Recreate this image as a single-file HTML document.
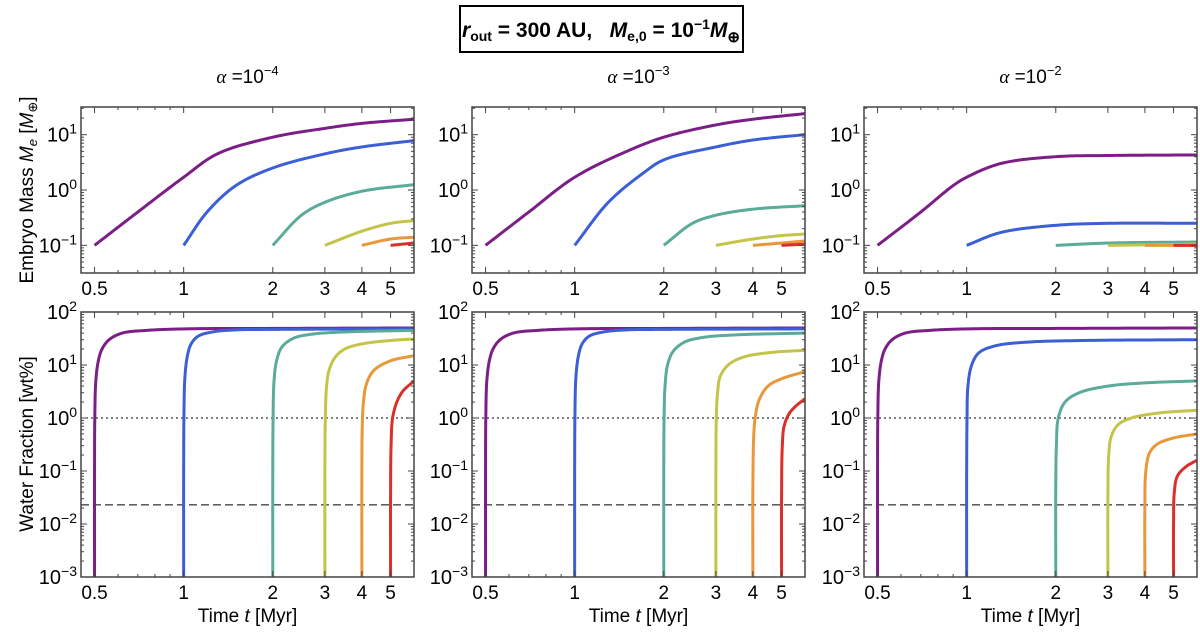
<!DOCTYPE html>
<html><head><meta charset="utf-8"><style>
body{margin:0;background:#fff;width:1200px;height:633px;overflow:hidden}
svg{font-family:"Liberation Sans",sans-serif}
</style></head><body>
<svg id="fig" width="1200" height="633" viewBox="0 0 1200 633">
<g>
<rect x="460" y="6" width="283" height="46" fill="#fff" stroke="#000" stroke-width="2"/>
<text x="601" y="37" text-anchor="middle" font-size="21" font-weight="bold"><tspan font-style="italic">r</tspan><tspan font-size="14" dy="4">out</tspan><tspan dy="-4" xml:space="preserve"> = 300 AU,   </tspan><tspan font-style="italic">M</tspan><tspan font-size="14" dy="4">e,0</tspan><tspan dy="-4"> = 10</tspan><tspan font-size="14" dy="-8">−1</tspan><tspan dy="8" font-style="italic">M</tspan><tspan font-size="15" dy="5">⊕</tspan></text>
</g>
<text transform="translate(33,190) rotate(-90)" text-anchor="middle" font-size="19">Embryo Mass <tspan font-style="italic">M</tspan><tspan font-size="13" font-style="italic" dy="4">e</tspan><tspan dy="-4"> [</tspan><tspan font-style="italic">M</tspan><tspan font-size="13" dy="4">⊕</tspan><tspan dy="-4">]</tspan></text>
<text transform="translate(33,444) rotate(-90)" text-anchor="middle" font-size="19">Water Fraction [wt%]</text>
</svg>
<script>
const NS="http://www.w3.org/2000/svg";
const svg=document.getElementById('fig');
const alphaExps=["−4","−3","−2"];
const colors=["#7b1f87","#3c5fd6","#5aab9a","#c4c44a","#e8973a","#d9302b"];
const xTicks=[0.5,1,2,3,4,5];
const xTickLabels=["0.5","1","2","3","4","5"];
const massTicks=[1,0,-1];
const waterTicks=[2,1,0,-1,-2,-3];
const dottedLevel=1;
const dashedLevel=0.023;
// mass series per panel: [t, M]
const massA4=[
[[0.5,0.1],[0.7,0.4],[1,1.7],[1.3,4.5],[2,9],[3,13],[4,16],[6,19]],
[[1,0.1],[1.2,0.4],[1.5,1.2],[2,2.5],[3,4.5],[4,6],[6,7.8]],
[[2,0.1],[2.5,0.35],[3,0.6],[4,0.95],[6,1.25]],
[[3,0.1],[4,0.18],[5,0.25],[6,0.28]],
[[4,0.1],[5,0.13],[6,0.14]],
[[5,0.1],[6,0.11]]];
const massA3=[
[[0.5,0.1],[0.7,0.4],[1,1.7],[1.5,5],[2,9],[3,15],[4,19],[6,24]],
[[1,0.1],[1.3,0.6],[1.7,2],[2,3.5],[3,6],[4,8],[6,10]],
[[2,0.1],[2.5,0.25],[3,0.35],[4,0.45],[6,0.52]],
[[3,0.1],[4,0.13],[5,0.15],[6,0.16]],
[[4,0.1],[5,0.11],[6,0.12]],
[[5,0.1],[6,0.105]]];
const massA2=[
[[0.5,0.1],[0.7,0.4],[0.9,1.2],[1,1.7],[1.3,3],[2,4],[3,4.2],[6,4.3]],
[[1,0.1],[1.3,0.17],[2,0.23],[3,0.25],[6,0.25]],
[[2,0.1],[3,0.11],[6,0.115]],
[[3,0.1],[6,0.105]],
[[4,0.1],[6,0.1]],
[[5,0.1],[6,0.1]]];
// water fraction per panel: [t, wt%]
const waterA4=[
[[0.5,1e-3],[0.5,0.1],[0.501,1],[0.505,5],[0.515,12],[0.53,20],[0.56,30],[0.62,40],[0.75,45],[1,48],[2,49],[6,50]],
[[1,1e-3],[1,0.1],[1.002,1],[1.01,6],[1.03,15],[1.06,25],[1.12,35],[1.25,42],[1.5,46],[2,47],[6,48]],
[[2,1e-3],[2,0.1],[2.005,1],[2.02,5],[2.06,12],[2.15,22],[2.35,32],[2.7,38],[3.5,42],[6,45]],
[[3,1e-3],[3,0.1],[3.01,1],[3.04,4],[3.1,8],[3.25,14],[3.5,20],[4,25],[5,29],[6,31]],
[[4,1e-3],[4,0.1],[4.01,0.6],[4.05,2],[4.15,4.5],[4.4,8],[5,12],[6,15]],
[[5,1e-3],[5,0.03],[5.02,0.3],[5.08,1],[5.25,2],[5.5,3.2],[6,5]]];
const waterA3=[
[[0.5,1e-3],[0.5,0.1],[0.501,1],[0.505,5],[0.515,12],[0.53,20],[0.56,30],[0.62,40],[0.75,45],[1,48],[2,49],[6,50]],
[[1,1e-3],[1,0.1],[1.002,1],[1.01,6],[1.03,15],[1.06,25],[1.12,35],[1.25,42],[1.5,46],[2,47],[6,48]],
[[2,1e-3],[2,0.1],[2.005,1],[2.02,4],[2.06,10],[2.15,18],[2.35,27],[2.7,33],[3.5,37],[6,40]],
[[3,1e-3],[3,0.1],[3.01,1],[3.04,3],[3.1,6],[3.3,10],[3.7,14],[4.5,17],[6,19]],
[[4,1e-3],[4,0.05],[4.03,0.5],[4.08,1.1],[4.2,2.2],[4.5,4],[5,5.5],[6,7.5]],
[[5,1e-3],[5,0.03],[5.03,0.3],[5.1,0.7],[5.3,1.2],[5.6,1.7],[6,2.3]]];
const waterA2=[
[[0.5,1e-3],[0.5,0.1],[0.501,1],[0.505,5],[0.515,12],[0.53,20],[0.56,30],[0.62,40],[0.75,45],[1,48],[2,49],[6,50]],
[[1,1e-3],[1,0.1],[1.003,1],[1.01,4],[1.04,10],[1.1,17],[1.25,23],[1.6,27],[2.5,29],[6,30]],
[[2,1e-3],[2,0.05],[2.01,0.3],[2.04,1],[2.15,2],[2.4,3],[3,4],[4,4.6],[6,5]],
[[3,1e-3],[3,0.03],[3.02,0.2],[3.08,0.45],[3.25,0.75],[3.6,1],[4.5,1.25],[6,1.4]],
[[4,1e-3],[4,0.02],[4.03,0.1],[4.15,0.22],[4.4,0.32],[5,0.42],[6,0.5]],
[[5,1e-3],[5,0.01],[5.03,0.04],[5.15,0.08],[5.5,0.12],[6,0.16]]];
const massSets=[massA4,massA3,massA2];
const waterSets=[waterA4,waterA3,waterA2];

const X0=[81,472,864], PW=333;
const XMIN=Math.log10(0.45), XMAX=Math.log10(6);
function mk(tag,attrs,parent){const e=document.createElementNS(NS,tag);for(const k in attrs)e.setAttribute(k,attrs[k]);(parent||svg).appendChild(e);return e;}
function xs(p,t){return X0[p]+(Math.log10(t)-XMIN)/(XMAX-XMIN)*PW;}
// centripetal Catmull-Rom through pixel points
function smooth(pts){
  if(pts.length<3)return pts;
  const P=[[2*pts[0][0]-pts[1][0],2*pts[0][1]-pts[1][1]],...pts,[2*pts[pts.length-1][0]-pts[pts.length-2][0],2*pts[pts.length-1][1]-pts[pts.length-2][1]]];
  const out=[pts[0]];
  const tj=(ti,a,b)=>ti+Math.pow(Math.hypot(b[0]-a[0],b[1]-a[1])+1e-6,0.5);
  for(let i=0;i<P.length-3;i++){
    const p0=P[i],p1=P[i+1],p2=P[i+2],p3=P[i+3];
    const t0=0,t1=tj(t0,p0,p1),t2=tj(t1,p1,p2),t3=tj(t2,p2,p3);
    const n=20;
    for(let k=1;k<=n;k++){
      const t=t1+(t2-t1)*k/n;
      const L=(a,b,ta,tb)=>[ (tb-t)/(tb-ta)*a[0]+(t-ta)/(tb-ta)*b[0], (tb-t)/(tb-ta)*a[1]+(t-ta)/(tb-ta)*b[1] ];
      const A1=L(p0,p1,t0,t1),A2=L(p1,p2,t1,t2),A3=L(p2,p3,t2,t3);
      const B1=L(A1,A2,t0,t2),B2=L(A2,A3,t1,t3);
      out.push(L(B1,B2,t1,t2));
    }
  }
  return out;
}
function sup(parent,x,y,exp,size,anchor){
  const t=mk('text',{x:x,y:y,'text-anchor':anchor||'end','font-size':size},parent);
  t.innerHTML='10<tspan font-size="'+(size*0.7)+'" dy="-8">'+(exp<0?'−'+(-exp):exp)+'</tspan>';
  return t;
}
function panel(p,row){
  const top=row?312:107, bot=row?577:273;
  const ymin=row?-3:-1.5, ymax=row?2:1.5;
  const ys=v=>bot-(Math.log10(v)-ymin)/(ymax-ymin)*(bot-top);
  const g=mk('g',{});
  
  
  const L=X0[p],R=X0[p]+PW;
  const clipId='clip'+p+row;
  const cp=mk('clipPath',{id:clipId},g);mk('rect',{x:L,y:top,width:PW,height:bot-top},cp);
  if(row){
    const l1=mk('line',{x1:L,x2:R,y1:ys(dottedLevel),y2:ys(dottedLevel),stroke:'#000','stroke-width':1,'stroke-dasharray':'2,3'},g);
    
    
    const l2=mk('line',{x1:L,x2:R,y1:ys(dashedLevel),y2:ys(dashedLevel),stroke:'#000','stroke-width':1,'stroke-dasharray':'8,4'},g);
    
    
  }
  const sets=row?waterSets[p]:massSets[p];
  sets.forEach((s,i)=>{
    const px=smooth(s.map(pt=>[xs(p,pt[0]),ys(pt[1])]));
    const d=px.map((q,j)=>(j?'L':'M')+q[0].toFixed(2)+','+q[1].toFixed(2)).join('');
    const path=mk('path',{d:d,fill:'none',stroke:colors[i],'stroke-width':3,'stroke-linejoin':'round','clip-path':'url(#'+clipId+')'},g);
    
    
  });
  mk('rect',{x:L,y:top,width:PW,height:bot-top,fill:'none',stroke:'#444','stroke-width':1.5},g);
  const minor=[0.5,0.6,0.7,0.8,0.9,1,2,3,4,5,6];
  minor.forEach(t=>{const x=xs(p,t);const big=xTicks.includes(t);const len=big?6:3;
    mk('line',{x1:x,x2:x,y1:bot,y2:bot-len,stroke:'#444'},g);mk('line',{x1:x,x2:x,y1:top,y2:top+len,stroke:'#444'},g);});
  xTicks.forEach((t,i)=>{const tx=mk('text',{x:xs(p,t),y:bot+22,'text-anchor':'middle','font-size':19},g);tx.textContent=xTickLabels[i];
    
    });
  for(let e=Math.floor(ymin);e<=ymax;e++){for(let m=1;m<10;m++){const v=Math.pow(10,e)*m;const lv=Math.log10(v);if(lv<ymin||lv>ymax)continue;const y=ys(v);const len=m==1?6:3;
    mk('line',{x1:L,x2:L+len,y1:y,y2:y,stroke:'#444'},g);mk('line',{x1:R,x2:R-len,y1:y,y2:y,stroke:'#444'},g);}}
  (row?waterTicks:massTicks).forEach(e=>{const t=sup(g,L-4,ys(Math.pow(10,e))+7,e,20);
    
    });
  if(row){const t=mk('text',{x:L+PW/2,y:622,'text-anchor':'middle','font-size':19},g);
    t.innerHTML='Time  <tspan font-style="italic">t</tspan> [Myr]';
    t.setAttribute('xml:space','preserve');
    
    }
  else{const t=mk('text',{x:L+PW/2,y:83,'text-anchor':'middle','font-size':19},g);
    t.innerHTML='<tspan font-style="italic" font-family="Liberation Serif">α</tspan> =10<tspan font-size="13" dy="-8">'+alphaExps[p]+'</tspan>';
    
    }
}
for(let p=0;p<3;p++){panel(p,0);panel(p,1);}
</script>
</body></html>
